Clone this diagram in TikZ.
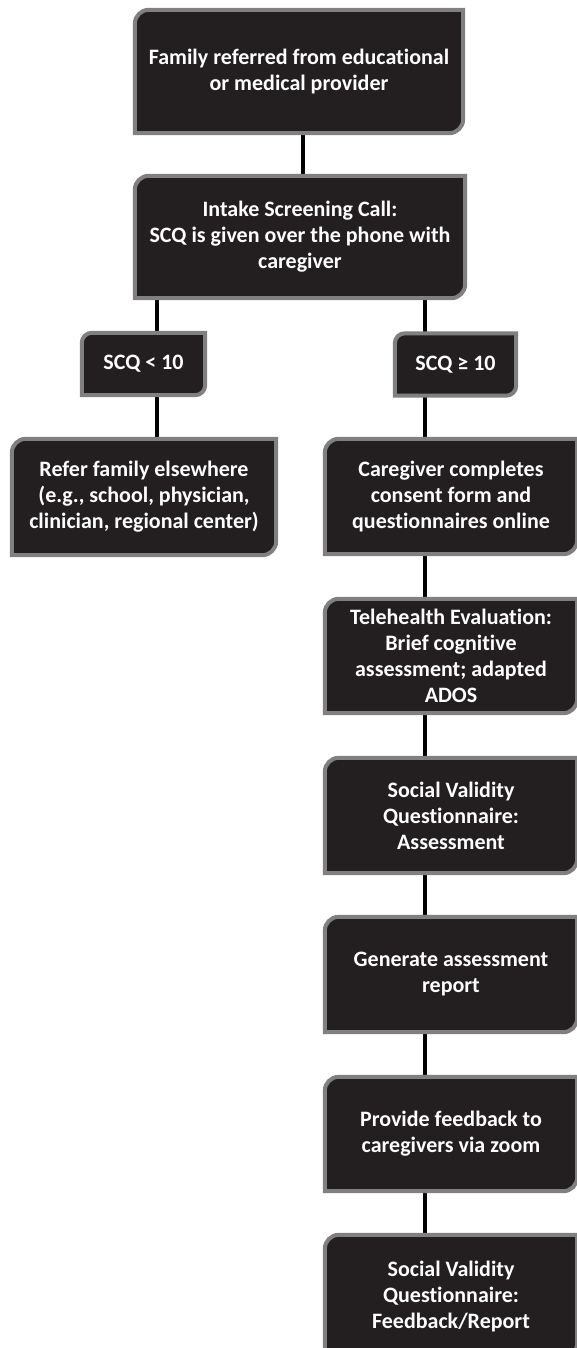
\documentclass[tikz,border=0pt]{standalone}
\usepackage{fontspec}
\setmainfont{Carlito}[Ligatures=CommonOff]
\usepackage{tikz}
\usetikzlibrary{positioning, backgrounds}
\definecolor{boxfill}{HTML}{231F20}
\definecolor{boxedge}{HTML}{808080}

\begin{document}
\begin{tikzpicture}[
    x=1pt, y=-1pt,
    stage/.style={inner sep=0pt, align=center, text=white, font=\fontsize{22}{26}\selectfont\bfseries},
    boxline/.style={draw=boxedge, fill=boxfill, line width=4pt},
    link/.style={draw=black, line width=4pt}
]
\useasboundingbox (0,0) rectangle (577,1348);
\clip (0,0) rectangle (577,1348);

% Top of the flow
\node[stage, minimum width=328pt, minimum height=123pt] (refer) at (299,71.5) {Family referred from educational\\or medical provider};
\node[stage, minimum width=330pt, minimum height=122pt] (intake) at (300,237) {Intake Screening Call:\\SCQ is given over the phone with\\caregiver};

% Screening outcome
\node[stage, minimum width=123pt, minimum height=62pt] (low) at (143.5,364) {SCQ < 10};
\node[stage, minimum width=121pt, minimum height=62pt] (high) at (455.5,364.5) {SCQ ≥ 10};
\node[stage, minimum width=264pt, minimum height=116pt] (elsewhere) at (144,497) {Refer family elsewhere\\(e.g., school, physician,\\clinician, regional center)};

% Evaluation path
\node[stage, minimum width=252pt, minimum height=115pt] (consent) at (451,496.5) {Caregiver completes\\consent form and\\questionnaires online};
\node[stage, minimum width=252pt, minimum height=114pt] (tele) at (451,656) {Telehealth Evaluation:\\Brief cognitive\\assessment; adapted\\ADOS};
\node[stage, minimum width=252pt, minimum height=115pt] (svqa) at (451,815.5) {Social Validity\\Questionnaire:\\Assessment};
\node[stage, minimum width=252pt, minimum height=115pt] (report) at (451,974.5) {Generate assessment\\report};
\node[stage, minimum width=252pt, minimum height=114pt] (feedback) at (451,1134) {Provide feedback to\\caregivers via zoom};
\node[stage, minimum width=252pt, minimum height=122pt] (svqf) at (451,1296) {Social Validity\\Questionnaire:\\Feedback/Report};

% Columns for the connectors
\coordinate (midcol) at (303,0);
\coordinate (leftcol) at (157,0);
\coordinate (rightcol) at (425,0);

\begin{scope}[on background layer]
% Connectors
\draw[link] (refer.south -| midcol) -- (intake.north -| midcol);
\draw[link] (intake.south -| leftcol) -- (low.north -| leftcol);
\draw[link] (low.south -| leftcol) -- (elsewhere.north -| leftcol);
\draw[link] (intake.south -| rightcol) -- (high.north -| rightcol);
\draw[link] (high.south -| rightcol) -- (consent.north -| rightcol);
\draw[link] (consent.south -| rightcol) -- (tele.north -| rightcol);
\draw[link] (tele.south -| rightcol) -- (svqa.north -| rightcol);
\draw[link] (svqa.south -| rightcol) -- (report.north -| rightcol);
\draw[link] (report.south -| rightcol) -- (feedback.north -| rightcol);
\draw[link] (feedback.south -| rightcol) -- (svqf.north -| rightcol);

% Boxes, rounded at top left and bottom right
\foreach \n/\r in {refer/14, intake/14, low/10, high/10, elsewhere/14, consent/14, tele/14, svqa/14, report/14, feedback/14, svqf/14}
  \draw[boxline] ([xshift=\r pt]\n.north west) -- (\n.north east) -- ([yshift=\r pt]\n.south east)
    arc[start angle=0, end angle=-90, radius=\r pt] -- (\n.south west) -- ([yshift=-\r pt]\n.north west)
    arc[start angle=180, end angle=90, radius=\r pt] -- cycle;
\end{scope}
\end{tikzpicture}
\end{document}
